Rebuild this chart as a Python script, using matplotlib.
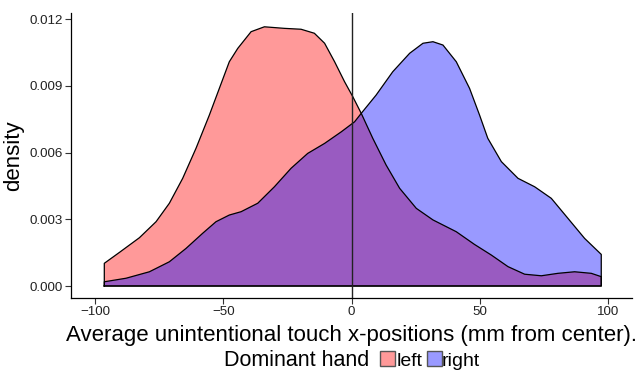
import matplotlib
matplotlib.use("Agg")
import matplotlib.pyplot as plt
from matplotlib.patches import Rectangle

plt.rcParams['font.family'] = ['Liberation Sans', 'DejaVu Sans']

# Dichtekurven
left_x = [-96.5, -90.6, -82.8, -76.3, -71.1, -65.9, -60.7, -55.5, -51.6, -47.7, -44.4, -39.2,
          -34.0, -26.2, -19.7, -14.5, -10.5, -6.6, -2.7, 0.5, 3.8, 8.3, 13.5, 18.8, 25.3, 31.8,
          40.9, 48.0, 54.6, 61.1, 67.6, 74.1, 80.6, 87.1, 93.6, 97.5]
left_y = [0.00102, 0.00151, 0.00217, 0.00289, 0.00372, 0.00484, 0.00619, 0.00768, 0.00888,
          0.01008, 0.01068, 0.01143, 0.01165, 0.01158, 0.01154, 0.01136, 0.01091, 0.01008,
          0.00918, 0.00851, 0.00776, 0.00664, 0.00544, 0.00439, 0.00349, 0.00297, 0.00244,
          0.00187, 0.00139, 0.00087, 0.00053, 0.00046, 0.00057, 0.00064, 0.00057, 0.00042]

right_x = [-96.5, -88.0, -78.9, -71.1, -64.6, -58.1, -52.9, -47.7, -43.1, -36.6, -30.1, -23.6,
           -17.1, -10.5, -4.0, 1.2, 3.8, 9.6, 16.1, 22.7, 27.9, 31.8, 35.7, 40.9, 46.1, 50.0,
           53.2, 58.5, 65.0, 71.5, 78.0, 84.5, 91.0, 97.5]
right_y = [0.00019, 0.00035, 0.00064, 0.00109, 0.00169, 0.00237, 0.00289, 0.00319, 0.00334,
           0.00372, 0.00446, 0.00529, 0.00596, 0.00641, 0.00693, 0.00738, 0.00776, 0.00858,
           0.00963, 0.01046, 0.01091, 0.01098, 0.01083, 0.01008, 0.00888, 0.00768, 0.00664,
           0.00559, 0.00484, 0.00446, 0.00394, 0.00304, 0.00214, 0.00142]

groups = ["left", "right"]
colors = ["red", "blue"]

x_ticks = [-100, -50, 0, 50, 100]
y_ticks = [0.000, 0.003, 0.006, 0.009, 0.012]

W, H = 639, 371
fig = plt.figure(figsize=(W/100, H/100), dpi=100)
ax = fig.add_axes([71/W, 1-298/H, (632-71)/W, (298-13)/H])

for xs, ys, c in [(left_x, left_y, colors[0]), (right_x, right_y, colors[1])]:
    px = [xs[0]] + xs + [xs[-1]]
    py = [0] + ys + [0]
    ax.fill(px, py, facecolor=c, alpha=0.4, edgecolor="none")
    ax.plot(px + [px[0]], py + [0], color="black", lw=0.9, solid_joinstyle="round")

ax.axvline(0, color="#222222", lw=1.0)

ax.set_xlim(-109.5, 109.5)
ax.set_ylim(-0.000539, 0.01227)
ax.set_xticks(x_ticks)
ax.set_yticks(y_ticks)
ax.set_yticklabels(["%.3f" % v for v in y_ticks])
ax.tick_params(labelsize=9.6, length=4, width=0.8, color="#333333", labelcolor="#222222", pad=2)
for s in ["top", "right"]:
    ax.spines[s].set_visible(False)
for s in ["left", "bottom"]:
    ax.spines[s].set_linewidth(0.9)

ax.set_xlabel("Average unintentional touch x-positions (mm from center).", fontsize=16, labelpad=5)
ax.set_ylabel("density", fontsize=16, labelpad=4)

# Legende unten, von Hand gesetzt
base = 366
fig.text(224/W, 1-base/H, "Dominant hand", fontsize=15.5, va="baseline", ha="left")
key_x = [380, 427]
lab_x = [396.5, 442]
for g, c, kx, lx in zip(groups, colors, key_x, lab_x):
    fig.patches.append(Rectangle((kx/W, 1-base/H), 15/W, 15/H, transform=fig.transFigure,
                                 facecolor=c, alpha=0.4, edgecolor="none"))
    fig.patches.append(Rectangle((kx/W, 1-base/H), 15/W, 15/H, transform=fig.transFigure,
                                 facecolor="none", edgecolor="#555555", lw=1.0))
    fig.text(lx/W, 1-base/H, g, fontsize=14, va="baseline", ha="left")

fig.savefig("out.png", dpi=100)
